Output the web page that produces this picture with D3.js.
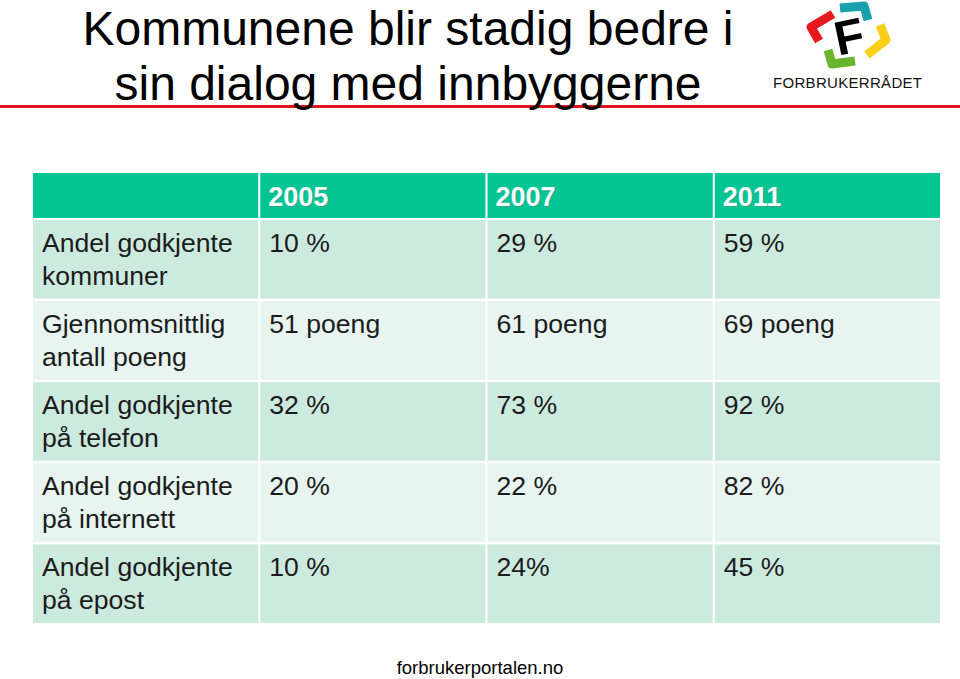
<!DOCTYPE html>
<html>
<head>
<meta charset="utf-8">
<script src="https://cdn.jsdelivr.net/npm/d3@7/dist/d3.min.js"></script>
<style>
  body { margin: 0; background: #fff; }
  svg text { font-family: "Liberation Sans", Arial, sans-serif; }
</style>
</head>
<body>
<div id="container"></div>
<script>
// table contents
var years = ["2005", "2007", "2011"];
var rowLabels = [
  ["Andel godkjente", "kommuner"],
  ["Gjennomsnittlig", "antall poeng"],
  ["Andel godkjente", "på telefon"],
  ["Andel godkjente", "på internett"],
  ["Andel godkjente", "på epost"]
];
var values2005 = ["10 %", "51 poeng", "32 %", "20 %", "10 %"];
var values2007 = ["29 %", "61 poeng", "73 %", "22 %", "24%"];
var values2011 = ["59 %", "69 poeng", "92 %", "82 %", "45 %"];

var W = 960, H = 679;
var svg = d3.select("#container").append("svg")
  .attr("width", W).attr("height", H);

// red rule under the title
svg.append("rect").attr("x", 0).attr("y", 105).attr("width", W).attr("height", 3)
  .attr("fill", "#e3141b");

// title
var title = svg.append("text").attr("x", 408).attr("font-size", 48).attr("fill", "#000")
  .attr("text-anchor", "middle");
title.append("tspan").attr("x", 408).attr("y", 45).text("Kommunene blir stadig bedre i");
title.append("tspan").attr("x", 408).attr("y", 100).text("sin dialog med innbyggerne");

// logo
var logo = svg.append("g");
var brackets = [
  {c: "#e8191e", p: [[833, 14], [811, 27], [819, 41]]},
  {c: "#1a9fad", p: [[840, 8], [864, 6], [868, 20]]},
  {c: "#f9cf17", p: [[880, 25], [886, 40], [867, 55]]},
  {c: "#69b42e", p: [[828, 50], [832, 64], [855, 61]]}
];
brackets.forEach(function(b) {
  logo.append("path")
    .attr("d", d3.line()(b.p))
    .attr("fill", "none").attr("stroke", b.c)
    .attr("stroke-width", 9).attr("stroke-linejoin", "round");
});
logo.append("text").attr("x", 849).attr("y", 53).attr("font-size", 48)
  .attr("font-weight", "bold").attr("text-anchor", "middle")
  .attr("transform", "rotate(-12,849,36)").text("F");
logo.append("text").attr("x", 773).attr("y", 88).attr("font-size", 15)
  .attr("textLength", 149).attr("lengthAdjust", "spacing").attr("fill", "#111")
  .text("FORBRUKERRÅDET");

// table
var columns = [""].concat(years);
var colData = [rowLabels, values2005, values2007, values2011];

var x = d3.scaleBand().domain(d3.range(columns.length)).range([33, 940]).paddingInner(0.009);
var y = d3.scaleBand().domain(d3.range(rowLabels.length)).range([220, 623]).paddingInner(0.03);
var headTop = 173, headBottom = 218;

var g = svg.append("g");

// header band
g.selectAll("rect.head").data(columns).enter().append("rect")
  .attr("class", "head")
  .attr("x", function(d, i) { return x(i); })
  .attr("y", headTop)
  .attr("width", x.bandwidth()).attr("height", headBottom - headTop)
  .attr("fill", "#03c594");

g.selectAll("text.headsh").data(columns).enter().append("text")
  .attr("x", function(d, i) { return x(i) + 9; })
  .attr("y", headTop + 34)
  .attr("font-size", 27).attr("font-weight", "bold").attr("fill", "#4a8f7c")
  .attr("opacity", 0.6)
  .text(function(d) { return d; });
g.selectAll("text.head").data(columns).enter().append("text")
  .attr("x", function(d, i) { return x(i) + 8; })
  .attr("y", headTop + 33)
  .attr("font-size", 27).attr("font-weight", "bold").attr("fill", "#f2fffb")
  .text(function(d) { return d; });

// body cells
rowLabels.forEach(function(lbl, r) {
  colData.forEach(function(col, c) {
    g.append("rect")
      .attr("x", x(c)).attr("y", y(r))
      .attr("width", x.bandwidth()).attr("height", y.bandwidth())
      .attr("fill", r % 2 === 0 ? "#cdeadf" : "#e7f4ef");
    var lines = Array.isArray(col[r]) ? col[r] : [col[r]];
    var t = g.append("text").attr("font-size", 26.6).attr("fill", "#1c1c1c");
    lines.forEach(function(s, k) {
      t.append("tspan").attr("x", x(c) + 9).attr("y", y(r) + 32 + k * 33).text(s);
    });
  });
});

// footer
svg.append("text").attr("x", 480).attr("y", 674).attr("text-anchor", "middle")
  .attr("font-size", 18.5).attr("fill", "#000").text("forbrukerportalen.no");
</script>
</body>
</html>
